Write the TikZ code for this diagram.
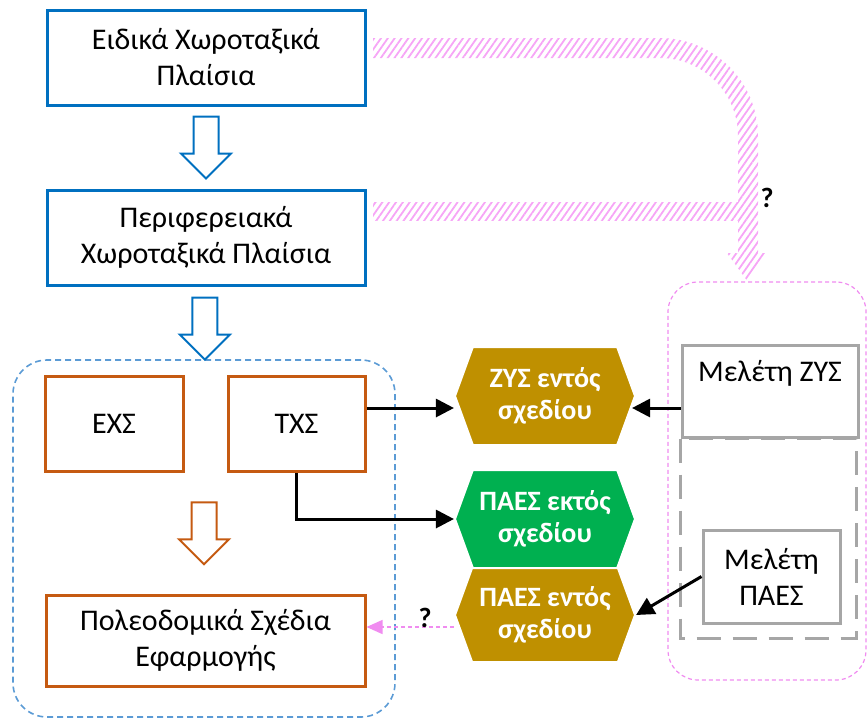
\documentclass[tikz,border=0pt]{standalone}
\usepackage{fontspec}
\setmainfont{Carlito}
\usetikzlibrary{arrows.meta,positioning,shapes.symbols,patterns.meta,calc}
\definecolor{spblue}{RGB}{0,112,192}
\definecolor{sporange}{RGB}{197,90,17}
\definecolor{spgold}{RGB}{191,144,0}
\definecolor{spgreen}{RGB}{0,176,80}
\definecolor{spgray}{RGB}{166,166,166}
\definecolor{sppink}{RGB}{240,140,240}
\definecolor{sphatch}{RGB}{246,165,246}
\definecolor{spdash}{RGB}{91,155,213}
\tikzset{
  txt/.style={font=\fontsize{15}{18}\selectfont},
  planbox/.style={txt,draw=spblue,line width=1.5pt,minimum width=159pt,minimum height=47.5pt,align=center},
  urbbox/.style={txt,draw=sporange,line width=1.5pt,minimum height=47.5pt,align=center},
  studybox/.style={txt,draw=spgray,line width=1.5pt,align=center},
  hexbox/.style={signal,signal to=west and east,signal pointer angle=140,draw=white,line width=1pt,
    minimum width=90pt,minimum height=49pt,inner sep=0pt,text=white,align=center,
    font=\fontsize{14}{16}\selectfont\bfseries},
  linkarrow/.style={line width=1.5pt,-{Triangle[length=9pt,width=9pt]}},
  askarrow/.style={sppink,line width=0.7pt,dash pattern=on 2pt off 1.5pt,-{Triangle[length=8pt,width=7pt]}},
  hatched/.style={pattern={Lines[angle=55,distance=2.8pt,line width=0.9pt]},pattern color=sphatch},
  ask/.style={font=\fontsize{14}{17}\selectfont\bfseries},
}
%% hollow block arrow, centred on #2
\newcommand{\hollowarrow}[2]{%
  \draw[#1,line width=1pt,fill=white] ($(#2)+(-12.5,-31)$) -- ++(25,0) -- ++(0,37)
    -- ++(12.5,0) -- ++(-25,25) -- ++(-25,-25) -- ++(12.5,0) -- cycle;}

\begin{document}
\begin{tikzpicture}[x=0.5pt,y=-0.5pt]
  \useasboundingbox (0,0) rectangle (868,719);

  %% groups
  \node[draw=spdash,line width=0.8pt,dash pattern=on 3pt off 2pt,rounded corners=17pt,
        minimum width=191pt,minimum height=178.5pt] (grp) at (204,538.5) {};
  \node[draw=sppink,line width=0.6pt,dash pattern=on 2pt off 1.5pt,rounded corners=15pt,
        minimum width=99pt,minimum height=199pt] (studies) at (767,481) {};

  %% spatial plans
  \node[planbox] (b1) at (206,57.5) {Ειδικά Χωροταξικά\\Πλαίσια};
  \node[planbox] (b2) at (206,237.5) {Περιφερειακά\\Χωροταξικά Πλαίσια};

  %% urban plans
  \node[urbbox,minimum width=69pt] (ex) at (114,424) {ΕΧΣ};
  \node[urbbox,minimum width=68.5pt] (tx) at (296.5,424) {ΤΧΣ};
  \node[urbbox,minimum width=159.5pt,minimum height=45.5pt] (pol) at (205.5,640.5)
        {Πολεοδομικά Σχέδια\\Εφαρμογής};

  %% zones
  \node[hexbox,fill=spgold] (ze) at (545,396) {ΖΥΣ εντός\\σχεδίου};
  \node[hexbox,fill=spgreen] (pe1) at (545,519) {ΠΑΕΣ εκτός\\σχεδίου};
  \node[hexbox,fill=spgold,minimum height=47pt] (pe3) at (545,615) {ΠΑΕΣ εντός\\σχεδίου};

  %% studies
  \node[studybox,minimum width=88pt,minimum height=46pt,
        label={[txt,anchor=north,yshift=-5pt]north:Μελέτη ΖΥΣ}] (zys) at (770,391) {};
  \draw[spgray,line width=1.5pt,dash pattern=on 12pt off 6pt] (zys.south west) rectangle ++(176,200);
  \node[studybox,minimum width=68.5pt,minimum height=46.5pt] (pae) at (771.5,576.5) {Μελέτη\\ΠΑΕΣ};

  %% hollow arrows
  \hollowarrow{spblue}{$(b1.south)!0.5!(b2.north)$}
  \hollowarrow{spblue}{$(b2.south)!0.58!(grp.north)$}
  \hollowarrow{sporange}{$(tx.south -| grp.north)!0.5!(pol.north -| grp.north)$}

  %% hatched arrows to the studies
  \fill[hatched] (373,38) -- (660,38) arc[start angle=-90,end angle=0,radius=98]
    -- (758,253) -- (768,253) -- (748,282) -- (727,253) -- (738,253) -- (738,136)
    arc[start angle=0,end angle=-90,radius=78] -- (373,58) -- cycle;
  \fill[hatched] (373,202) rectangle (738,220);
  \node[ask] (q1) at (767,198) {?};

  %% links
  \coordinate (r1) at ([yshift=8pt]tx.east);
  \draw[linkarrow] (r1) -- (r1 -| ze.west);
  \draw[linkarrow] (tx.south) |- (pe1.west);
  \coordinate (r2) at (zys.west |- r1);
  \draw[linkarrow] (r2) -- ([xshift=-2pt]r2 -| ze.east);
  \draw[linkarrow] (pae.west) -- (pe3.east);
  \coordinate (r3) at ([yshift=-6pt]pe3.west);
  \draw[askarrow] (r3) -- (r3 -| pol.east);
  \node[ask] (q2) at (425,618) {?};
\end{tikzpicture}
\end{document}
